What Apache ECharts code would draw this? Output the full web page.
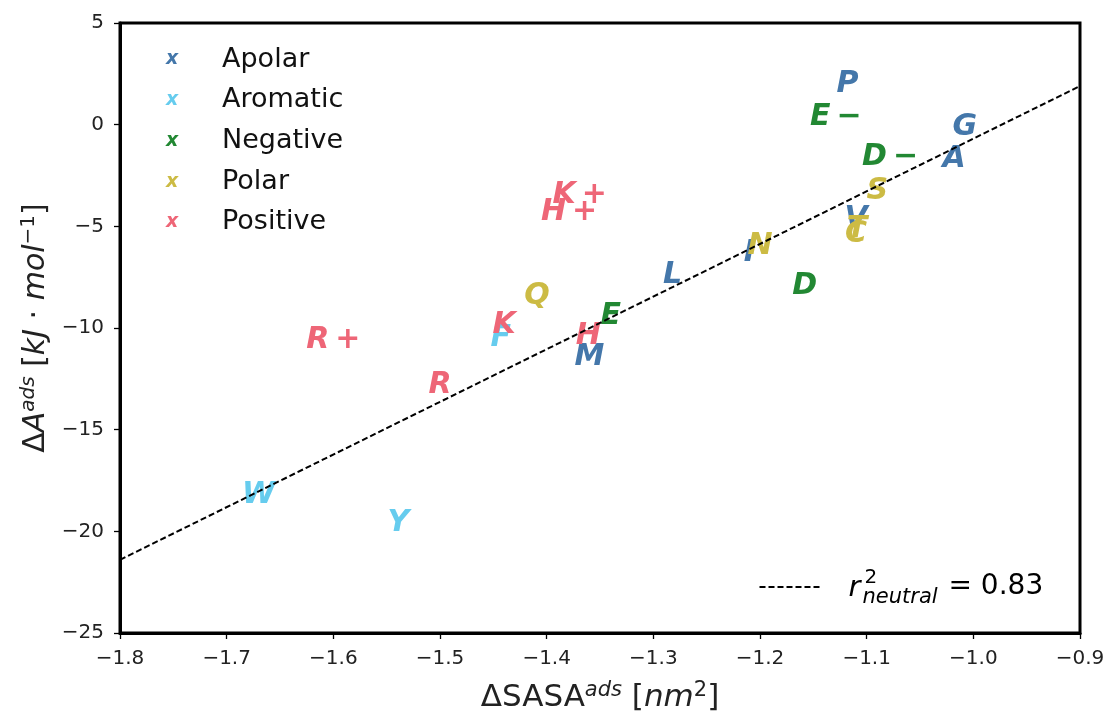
<!DOCTYPE html>
<html>
<head>
<meta charset="utf-8">
<script src="https://cdn.jsdelivr.net/npm/echarts@6/dist/echarts.min.js"></script>
<style>
  html, body { margin: 0; padding: 0; background: #ffffff; }
  #chart { width: 1109px; height: 713px; }
</style>
</head>
<body>
<div id="chart"></div>
<script>
// Amino-acid adsorption: [label, ΔSASA (nm²), ΔA (kJ/mol)]
const apolar = [
  ['P', -1.118, 1.97], ['G', -1.008, -0.12], ['A', -1.018, -1.72], ['V', -1.110, -4.63],
  ['I', -1.210, -6.30], ['L', -1.282, -7.38], ['M', -1.360, -11.43]
];
const aromatic = [
  ['F', -1.443, -10.49], ['W', -1.670, -18.20], ['Y', -1.539, -19.59]
];
const negative = [
  ['E\u2009\u2212', -1.129, 0.39], ['D\u2009\u2212', -1.078, -1.58],
  ['D', -1.158, -7.96], ['E', -1.340, -9.43]
];
const polar = [
  ['S', -1.090, -3.28], ['T', -1.109, -5.12], ['C', -1.110, -5.41],
  ['N', -1.200, -5.99], ['Q', -1.409, -8.45]
];
const positive = [
  ['K\u2009+', -1.369, -3.45], ['H\u2009+', -1.379, -4.31], ['R\u2009+', -1.600, -10.58],
  ['K', -1.440, -9.84], ['H', -1.361, -10.42], ['R', -1.500, -12.79]
];

const groupNames = ['Apolar', 'Aromatic', 'Negative', 'Polar', 'Positive'];
const groupColors = ['#4477AA', '#66CCEE', '#228833', '#CCBB44', '#EE6677'];
const groups = [apolar, aromatic, negative, polar, positive];

// Linear fit over the neutral residues (end points)
const fitX = [-1.8, -0.9];
const fitY = [-21.4, 1.9];
const r2Neutral = '0.83';

const xTicks = { min: -1.8, max: -0.9, step: 0.1 };
const yTicks = { min: -25, max: 5, step: 5 };

const FONT = 'DejaVu Sans';
const minus = v => String(v).replace('-', '\u2212');

const scatterSeries = groups.map((g, i) => ({
  name: groupNames[i],
  type: 'scatter',
  symbol: 'circle',
  symbolSize: 1,
  itemStyle: { color: 'rgba(0,0,0,0)', opacity: 1 },
  data: g.map(d => [d[1], d[2], d[0]]),
  label: {
    show: true,
    position: 'inside',
    formatter: p => p.value[2],
    color: groupColors[i],
    opacity: 1,
    fontFamily: FONT,
    fontSize: 30,
    fontWeight: 'bold',
    fontStyle: 'italic'
  },
  emphasis: { disabled: true },
  z: 3
}));

const legendRich = { t: { fontFamily: FONT, fontSize: 27, color: '#111', lineHeight: 30 } };
groupColors.forEach((c, i) => {
  legendRich['m' + i] = {
    fontFamily: FONT, fontSize: 19, fontWeight: 'bold', fontStyle: 'italic',
    color: c, width: 56, align: 'left', lineHeight: 30
  };
});

const chart = echarts.init(document.getElementById('chart'), null, { renderer: 'canvas' });

chart.setOption({
  animation: false,
  backgroundColor: '#ffffff',
  grid: {
    left: 120, right: 29, top: 23, bottom: 80,
    outerBoundsMode: 'none',
    containLabel: false,
    show: true, borderColor: '#000', borderWidth: 3
  },
  legend: {
    orient: 'vertical',
    left: 161, top: 46,
    padding: 0,
    itemGap: 13.7,
    itemWidth: 0,
    itemHeight: 14,
    icon: 'none',
    selectedMode: false,
    data: groupNames,
    formatter: name => '{m' + groupNames.indexOf(name) + '|x}{t|' + name + '}',
    textStyle: { rich: legendRich }
  },
  xAxis: {
    type: 'value',
    min: xTicks.min, max: xTicks.max, interval: xTicks.step,
    splitLine: { show: false },
    axisLine: { show: true, onZero: false, lineStyle: { color: '#000', width: 3 } },
    axisTick: { show: true, length: 6, lineStyle: { color: '#000', width: 1.3 } },
    axisLabel: {
      margin: 16, color: '#222', fontFamily: FONT, fontSize: 20,
      formatter: v => minus(v.toFixed(1))
    },
    name: '{b|ΔSASA}{s|ads}{b| [}{i|nm}{u|2}{b|]}',
    nameLocation: 'middle',
    nameGap: 47,
    nameTextStyle: {
      rich: {
        b: { fontFamily: FONT, fontSize: 31, color: '#222', lineHeight: 36 },
        i: { fontFamily: FONT, fontSize: 31, fontStyle: 'italic', color: '#222', lineHeight: 36 },
        s: { fontFamily: FONT, fontSize: 21, fontStyle: 'italic', color: '#222', verticalAlign: 'top', lineHeight: 24 },
        u: { fontFamily: FONT, fontSize: 21, color: '#222', verticalAlign: 'top', lineHeight: 24 }
      }
    }
  },
  yAxis: {
    type: 'value',
    min: yTicks.min, max: yTicks.max, interval: yTicks.step,
    splitLine: { show: false },
    axisLine: { show: true, onZero: false, lineStyle: { color: '#000', width: 3 } },
    axisTick: { show: true, length: 6, lineStyle: { color: '#000', width: 1.3 } },
    axisLabel: {
      margin: 16, color: '#222', fontFamily: FONT, fontSize: 20,
      formatter: v => minus(v)
    },
    name: '{b|Δ}{i|A}{s|ads}{b| [}{i|kJ}{b| · }{i|mol}{u|\u22121}{b|]}',
    nameLocation: 'middle',
    nameRotate: 90,
    nameGap: 64,
    nameTextStyle: {
      rich: {
        b: { fontFamily: FONT, fontSize: 30, color: '#222', lineHeight: 34 },
        i: { fontFamily: FONT, fontSize: 30, fontStyle: 'italic', color: '#222', lineHeight: 34 },
        s: { fontFamily: FONT, fontSize: 20, fontStyle: 'italic', color: '#222', verticalAlign: 'top', lineHeight: 22 },
        u: { fontFamily: FONT, fontSize: 20, color: '#222', verticalAlign: 'top', lineHeight: 22 }
      }
    }
  },
  series: scatterSeries.concat([{
    name: 'fit',
    type: 'line',
    data: fitX.map((x, i) => [x, fitY[i]]),
    symbol: 'none',
    silent: true,
    lineStyle: { color: '#000', width: 2, type: [6, 3] },
    z: 5
  }]),
  graphic: [
    {
      type: 'group',
      left: 757, top: 568,
      children: [
        { type: 'line', shape: { x1: 0, y1: 17, x2: 61, y2: 17 },
          style: { stroke: '#000', lineWidth: 2, lineDash: [6, 3] } },
        { type: 'text', x: 89, y: 18,
          style: { text: 'r', font: 'italic 29px "DejaVu Sans"', fill: '#000', verticalAlign: 'middle' } },
        { type: 'text', x: 105, y: 8,
          style: { text: '2', font: '20px "DejaVu Sans"', fill: '#000', verticalAlign: 'middle' } },
        { type: 'text', x: 103, y: 28,
          style: { text: 'neutral', font: 'italic 21px "DejaVu Sans"', fill: '#000', verticalAlign: 'middle' } },
        { type: 'text', x: 189, y: 17,
          style: { text: '= ' + r2Neutral, font: '28px "DejaVu Sans"', fill: '#000', verticalAlign: 'middle' } }
      ]
    }
  ]
});
</script>
</body>
</html>
